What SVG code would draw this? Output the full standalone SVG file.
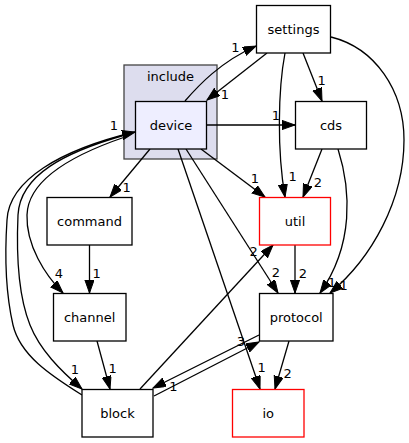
<svg xmlns="http://www.w3.org/2000/svg" width="409" height="443" viewBox="0 0 409 443">
<style>
text{font-family:"DejaVu Sans","Liberation Sans",sans-serif;font-size:13px;fill:#000;text-anchor:middle}
.node rect{fill:#fff;stroke:#000;stroke-width:1.3}
.node.red rect{stroke:#ff0000}
.node.cur rect{fill:#eeeeff}
.cluster rect{fill:#ddddee;stroke:#444;stroke-width:1.3}
.edges path{fill:none;stroke:#000;stroke-width:1.3;marker-end:url(#ah)}
</style>
<defs>
<marker id="ah" markerUnits="userSpaceOnUse" markerWidth="14" markerHeight="10" refX="13" refY="4.6" orient="auto" viewBox="0 0 14 10">
<path d="M0,0 L13,4.6 L0,9.2 z" fill="#000" stroke="#000" stroke-width="1"/>
</marker>
</defs>
<rect width="409" height="443" fill="#fff"/>
<g id="cluster_include" class="cluster">
<rect x="124" y="65" width="93" height="94"/>
<text x="170.5" y="80.5">include</text>
</g>
<g id="edges" class="edges">
<path d="M185,101 C198,86 220,62 256,46"/>
<path d="M267,53 L207,100"/>
<path d="M207,125 L295,125"/>
<path d="M303,53 L322,101"/>
<path d="M285,53 C278,90 277,150 285,197"/>
<path d="M331,37 C375,48 404,90 404,140 C404,200 372,258 330,293"/>
<path d="M322,149 L303,197"/>
<path d="M338,149 C351,190 354,245 320,293"/>
<path d="M295,245 L295,293"/>
<path d="M201,149 L265,197"/>
<path d="M186,149 L278,293"/>
<path d="M178,149 L260,389"/>
<path d="M140,389 L273,245"/>
<path d="M289,341 L275,389"/>
<path d="M259,335 L153,388"/>
<path d="M154,396 L259,342"/>
<path d="M89.5,245 L89.5,293"/>
<path d="M97,341 L110,389"/>
<path d="M150,149 L110,197"/>
<path d="M82,395 C50,375 20,355 13,325 C5,290 5,250 7,220 C9,180 60,150 135,132"/>
<path d="M125,135 C65,152 20,175 18,215 C16,260 20,300 30,325 C40,350 60,370 82,389"/>
<path d="M125,137 C72,155 28,180 27,215 C26,245 45,275 63,293"/>
</g>
<g id="labels">
<text x="235.5" y="51.5">1</text>
<text x="225" y="99">1</text>
<text x="276" y="120">1</text>
<text x="321.7" y="85">1</text>
<text x="114" y="130">1</text>
<text x="126.7" y="191.5">1</text>
<text x="255" y="182.5">1</text>
<text x="292.7" y="180.5">1</text>
<text x="318" y="187">2</text>
<text x="96.7" y="278">1</text>
<text x="58.8" y="277.5">4</text>
<text x="253.7" y="255.5">2</text>
<text x="276" y="277">2</text>
<text x="303" y="278">2</text>
<text x="332" y="287">1</text>
<text x="343.7" y="290">1</text>
<text x="287.7" y="378">2</text>
<text x="261.7" y="372">1</text>
<text x="240.8" y="346">3</text>
<text x="173.3" y="390.5">1</text>
<text x="112.7" y="373">1</text>
<text x="75" y="374">1</text>
</g>
<g id="node_settings" class="node"><rect x="256.5" y="5.5" width="74" height="47.5"/><text x="293.5" y="33.5">settings</text></g>
<g id="node_device" class="node cur"><rect x="135.5" y="101.5" width="71" height="47.5"/><text x="171" y="129.5">device</text></g>
<g id="node_cds" class="node"><rect x="295.5" y="101.5" width="71" height="47.5"/><text x="331" y="129.5">cds</text></g>
<g id="node_command" class="node"><rect x="47" y="197.5" width="85" height="47.5"/><text x="89.5" y="225.5">command</text></g>
<g id="node_util" class="node red"><rect x="259.5" y="197.5" width="71" height="47.5"/><text x="295" y="225.5">util</text></g>
<g id="node_channel" class="node"><rect x="53.5" y="293.5" width="72.5" height="47.5"/><text x="89.7" y="321.5">channel</text></g>
<g id="node_protocol" class="node"><rect x="259.5" y="293.5" width="73.5" height="47.5"/><text x="296.2" y="321.5">protocol</text></g>
<g id="node_block" class="node"><rect x="82" y="389.5" width="71" height="47.5"/><text x="117.5" y="417.5">block</text></g>
<g id="node_io" class="node red"><rect x="232.5" y="389.5" width="71.5" height="47.5"/><text x="268.2" y="417.5">io</text></g>
</svg>
